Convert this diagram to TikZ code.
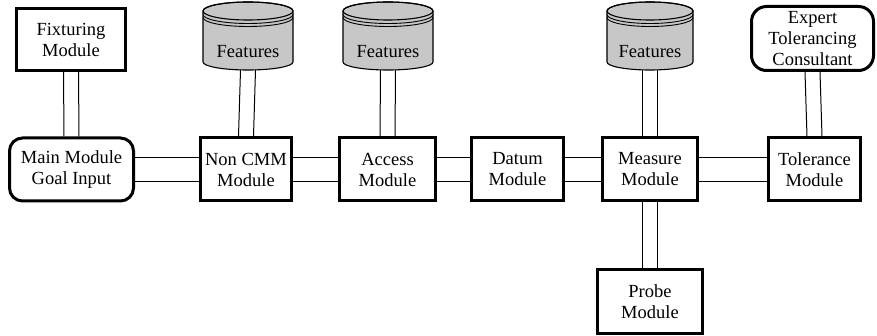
\documentclass[tikz,border=0pt]{standalone}
\usepackage{fontspec}
\setmainfont{Liberation Serif}
\newfontfamily\lbserif{Liberation Serif}
\begin{document}
\begin{tikzpicture}[x=1pt,y=1pt,
  every node/.style={font=\lbserif\fontsize{18.5}{21}\selectfont, align=center, inner sep=0pt},
  modbox/.style={draw, line width=3pt, rectangle, minimum height=63pt},
  roundbox/.style={modbox, rounded corners=13pt},
  conn/.style={line width=1pt},
  cylfill/.style={fill=black!22, draw, line width=1.1pt}
]
\useasboundingbox (0,0) rectangle (877,-336);

% modules
\node[modbox, minimum width=109pt, minimum height=62pt] (fix) at (71,-39.5) {Fixturing\\Module};
\node[roundbox, minimum width=124pt] (main) at (71.5,-169.5) {Main Module\\Goal Input};
\node[modbox, minimum width=91pt] (noncmm) at (246,-169.5) {Non CMM\\Module};
\node[modbox, minimum width=96pt] (access) at (387.5,-169.5) {Access\\Module};
\node[modbox, minimum width=92pt] (datum) at (517.5,-169.5) {Datum\\Module};
\node[modbox, minimum width=95pt] (measure) at (650,-169.5) {Measure\\Module};
\node[modbox, minimum width=92pt] (tol) at (814.5,-169.5) {Tolerance\\Module};
\node[modbox, minimum width=105pt] (probe) at (650,-301.5) {Probe\\Module};
\node[roundbox, minimum width=122pt, minimum height=64pt, rounded corners=15pt] (expert) at (812.5,-38.5) {Expert\\Tolerancing\\Consultant};

% feature cylinders
\newcommand\featcyl[3]{% name, cx, rx
  \path[cylfill] ({#2-#3},-11) -- ({#2-#3},-62)
     arc[start angle=180,end angle=360,x radius=#3,y radius=8]
     -- ({#2+#3},-11)
     arc[start angle=0,end angle=180,x radius=#3,y radius=9] -- cycle;
  \draw[line width=1.1pt] (#2,-11) ellipse[x radius=#3,y radius=9];
  \draw[line width=0.9pt] ({#2-#3},-14.5) arc[start angle=180,end angle=360,x radius=#3,y radius=9];
  \draw[line width=0.9pt] ({#2-#3},-17.5) arc[start angle=180,end angle=360,x radius=#3,y radius=9];
  \node[minimum width=2*#3 pt, minimum height=68pt] (#1) at (#2,-36) {};
  \node (#1t) at (#2,-52) {Features};
}
\featcyl{f1}{248}{45}
\featcyl{f2}{388}{45}
\featcyl{f3}{650}{43}

% vertical double connectors
\foreach \s in {-7.5,7.5} {
  \draw[conn] ([xshift=\s pt]fix.south) -- ([xshift=\s pt]main.north);
  \draw[conn] ([xshift=\s pt]expert.south) -- ([xshift=\s pt]tol.north);
  \draw[conn] ([xshift=\s pt]measure.south) -- ([xshift=\s pt]probe.north);
  \draw[conn] ([xshift=\s pt]f1.south) -- ([xshift=\s pt]noncmm.north);
  \draw[conn] ([xshift=\s pt]f2.south) -- ([xshift=\s pt]access.north);
  \draw[conn] ([xshift=\s pt]f3.south) -- ([xshift=\s pt]measure.north);
}
% horizontal double connectors
\foreach \s in {-12,12} {
  \draw[conn] ([yshift=\s pt]main.east) -- ([yshift=\s pt]noncmm.west);
  \draw[conn] ([yshift=\s pt]noncmm.east) -- ([yshift=\s pt]access.west);
  \draw[conn] ([yshift=\s pt]access.east) -- ([yshift=\s pt]datum.west);
  \draw[conn] ([yshift=\s pt]datum.east) -- ([yshift=\s pt]measure.west);
  \draw[conn] ([yshift=\s pt]measure.east) -- ([yshift=\s pt]tol.west);
}
\end{tikzpicture}
\end{document}
